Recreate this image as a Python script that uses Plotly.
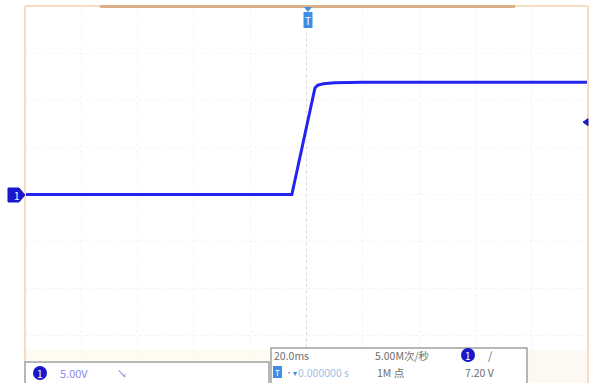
import plotly.graph_objects as go

# Captured channel 1 waveform: time in ms, amplitude in volts
time_ms = [-100, -5.2, 3.0, 4.0, 6.0, 10.0, 20.0, 100]
volts = [0.0, 0.0, 11.3, 11.6, 11.75, 11.85, 11.9, 11.9]

# Scope settings shown in the readouts
ch1_scale = "5.00V"
time_scale = "20.0ms"
sample_rate = "5.00M次/秒"
record_len = "1M 点"
trig_pos = "0.000000 s"
trig_level = "7.20 V"
trig_level_v = 7.2

W, H = 596, 383
L, R, T, B = 25, 8, 6, 0
PW, PH = W - L - R, H - T - B


def px(x):
    return (x - L) / PW


def py(y):
    return (H - B - y) / PH


TAN = "#f5dcc2"
DARK_TAN = "#dcb088"
BLUE = "#1818c8"
TXT_BLUE = "#8c8ce6"
GRAY_TXT = "#6e6e6e"

fig = go.Figure()
fig.add_trace(go.Scatter(
    x=time_ms, y=volts, mode="lines",
    line=dict(color="#2424f0", width=3),
    hoverinfo="skip", showlegend=False,
))

shapes = []
# faint background bands near the bottom
shapes.append(dict(type="rect", xref="paper", yref="paper",
                   x0=px(25), x1=px(270), y0=py(362), y1=py(350),
                   fillcolor="#fefcf0", line=dict(width=0), layer="below"))
shapes.append(dict(type="rect", xref="paper", yref="paper",
                   x0=px(527), x1=px(588), y0=py(383), y1=py(350),
                   fillcolor="#fef8f2", line=dict(width=0), layer="below"))

# centre cross-hair of the graticule
shapes.append(dict(type="line", xref="x", yref="paper", x0=0, x1=0, y0=0, y1=1,
                   line=dict(color="#d4d4d4", width=1, dash="dot"), layer="below"))
shapes.append(dict(type="line", xref="paper", yref="y", x0=0, x1=1, y0=0, y1=0,
                   line=dict(color="#dcdcdc", width=1, dash="dot"), layer="below"))

# frame
shapes.append(dict(type="line", xref="paper", yref="paper", x0=0, x1=0,
                   y0=py(362), y1=1, line=dict(color=TAN, width=2)))
shapes.append(dict(type="line", xref="paper", yref="paper", x0=1, x1=1,
                   y0=0, y1=1, line=dict(color=TAN, width=2)))
shapes.append(dict(type="line", xref="paper", yref="paper", x0=0, x1=1,
                   y0=1, y1=1, line=dict(color=TAN, width=2)))
shapes.append(dict(type="rect", xref="paper", yref="paper",
                   x0=px(100), x1=px(515), y0=py(8), y1=py(5),
                   fillcolor=DARK_TAN, line=dict(width=0)))

# status boxes
shapes.append(dict(type="rect", xref="paper", yref="paper",
                   x0=px(25), x1=px(269), y0=py(386), y1=py(362),
                   fillcolor="white", line=dict(color="#a0a0a0", width=1.5)))
shapes.append(dict(type="rect", xref="paper", yref="paper",
                   x0=px(271), x1=px(527), y0=py(386), y1=py(348),
                   fillcolor="white", line=dict(color="#a0a0a0", width=1.5)))


def path(points):
    s = "M " + " L ".join(f"{px(x):.5f},{py(y):.5f}" for x, y in points) + " Z"
    return s


# channel 1 ground marker
shapes.append(dict(type="path", xref="paper", yref="paper",
                   path=path([(8, 188), (19, 188), (25, 195), (19, 202), (8, 202)]),
                   fillcolor=BLUE, line=dict(color=BLUE, width=1)))
# trigger position marker
shapes.append(dict(type="path", xref="paper", yref="paper",
                   path=path([(304, 7), (312, 7), (308, 12)]),
                   fillcolor="#3c8ee6", line=dict(width=0)))
shapes.append(dict(type="rect", xref="paper", yref="paper",
                   x0=px(303.5), x1=px(312.5), y0=py(28), y1=py(12),
                   fillcolor="#3c8ee6", line=dict(width=0)))
# trigger level marker
yl = 195 - trig_level_v * PH / 40 - 5
shapes.append(dict(type="path", xref="paper", yref="paper",
                   path=path([(583, yl), (588, yl - 3.5), (588, yl + 3.5)]),
                   fillcolor=BLUE, line=dict(color=BLUE, width=1)))

# channel badges
for cx, cy, r in [(40, 373, 7), (468, 355, 7)]:
    shapes.append(dict(type="circle", xref="paper", yref="paper",
                       x0=px(cx - r), x1=px(cx + r), y0=py(cy + r), y1=py(cy - r),
                       fillcolor=BLUE, line=dict(width=0)))
shapes.append(dict(type="rect", xref="paper", yref="paper",
                   x0=px(273), x1=px(282), y0=py(378), y1=py(366),
                   fillcolor="#3c8ee6", line=dict(width=0)))

FONT = "Noto Sans CJK SC, DejaVu Sans, sans-serif"
ann = []


def text(x, y, s, color, size=11, anchor="left"):
    ann.append(dict(xref="paper", yref="paper", x=px(x), y=py(y), text=s,
                    showarrow=False, xanchor=anchor, yanchor="middle",
                    font=dict(family=FONT, size=size, color=color)))


text(17, 195, "1", "white", 10, "center")
text(308, 20, "T", "white", 10, "center")
text(40, 373, "1", "white", 10, "center")
text(468, 355, "1", "white", 10, "center")
text(277.5, 372, "T", "white", 8, "center")
text(58, 373, ch1_scale, TXT_BLUE, 11)
text(122, 373, "↘", TXT_BLUE, 10, "center")
text(272, 355, time_scale, GRAY_TXT, 10.5)
text(373, 355, sample_rate, GRAY_TXT, 10.5)
text(490, 355, "/", GRAY_TXT, 11, "center")
text(283, 372, "•▾", "#3c8ee6", 8)
text(296, 372, trig_pos, "#9fc0e6", 10.5)
text(375, 372, record_len, GRAY_TXT, 10.5)
text(463, 372, trig_level, GRAY_TXT, 10.5)

fig.update_layout(
    width=W, height=H,
    margin=dict(l=L, r=R, t=T, b=B),
    paper_bgcolor="white", plot_bgcolor="white",
    shapes=shapes, annotations=ann,
    xaxis=dict(range=[-100, 100], dtick=20, tick0=-100, showticklabels=False,
               ticks="", showgrid=True, gridcolor="#f3f3f3", griddash="dot",
               gridwidth=1, zeroline=False, showline=False, fixedrange=True),
    yaxis=dict(range=[-20, 20], dtick=5, tick0=-20, showticklabels=False,
               ticks="", showgrid=True, gridcolor="#f3f3f3", griddash="dot",
               gridwidth=1, zeroline=False, showline=False, fixedrange=True),
)

fig.write_html("out.html")
